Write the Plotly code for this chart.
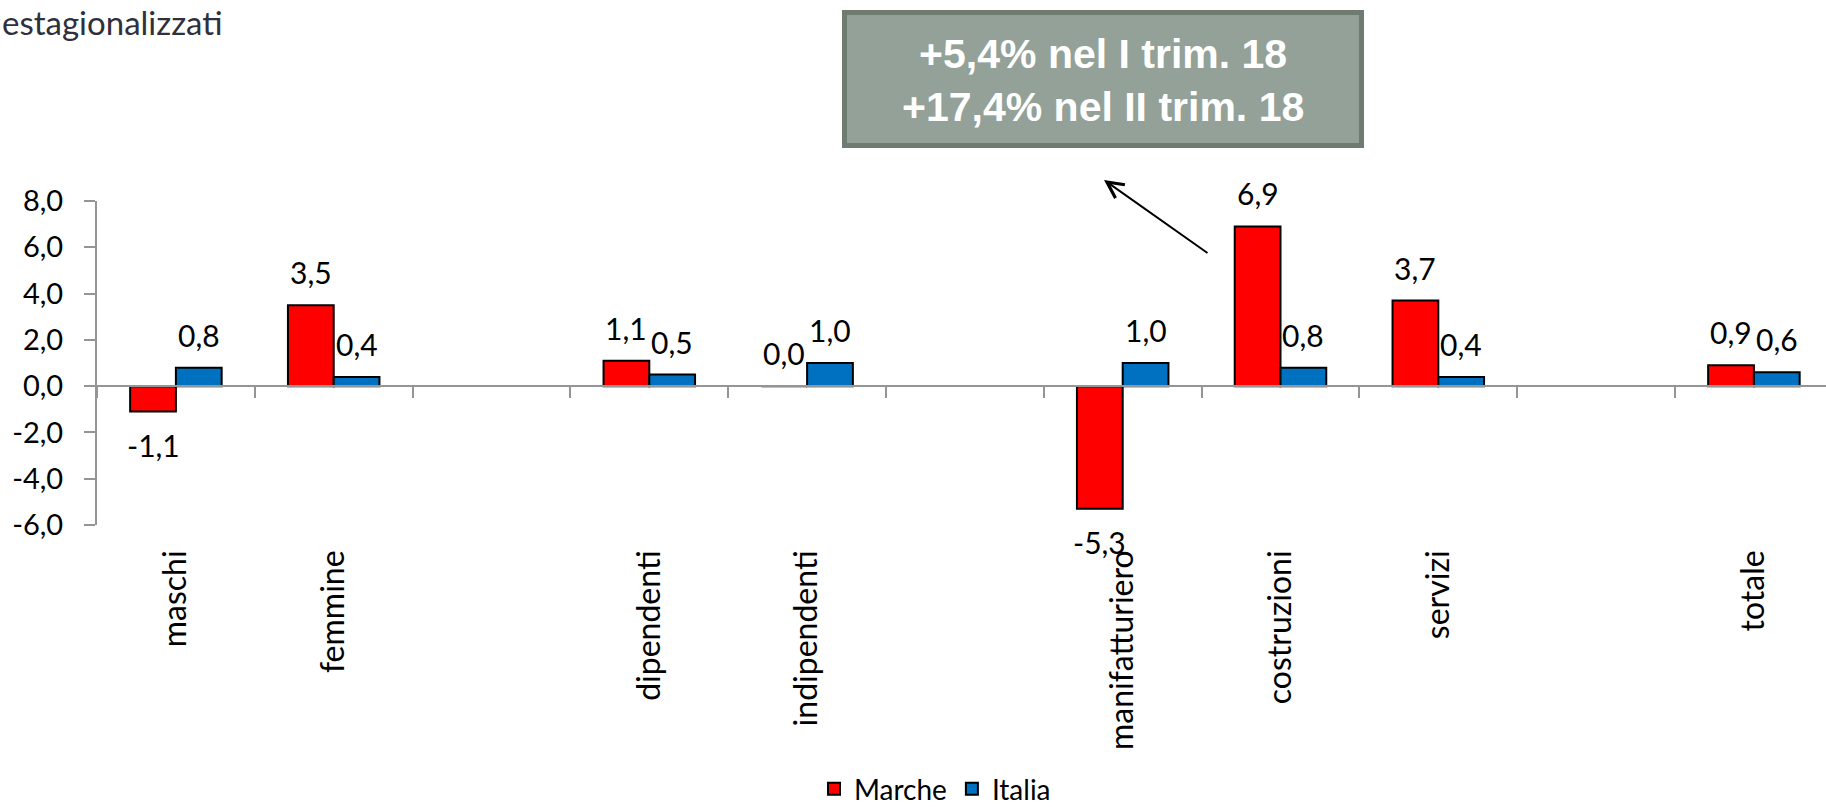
import plotly.graph_objects as go

# ---------------- data ----------------
categories = ["maschi", "femmine", "gap1", "dipendenti", "indipendenti", "gap2",
              "manifatturiero", "costruzioni", "servizi", "gap3", "totale"]
category_labels = ["maschi", "femmine", "", "dipendenti", "indipendenti", "",
                   "manifatturiero", "costruzioni", "servizi", "", "totale"]
marche = [-1.1, 3.5, None, 1.1, 0.0, None, -5.3, 6.9, 3.7, None, 0.9]
italia = [0.8, 0.4, None, 0.5, 1.0, None, 1.0, 0.8, 0.4, None, 0.6]
y_ticks = [-6, -4, -2, 0, 2, 4, 6, 8]
y_tick_labels = [f"{v:.1f}".replace(".", ",") for v in y_ticks]
title_text = "estagionalizzati"
box_text = "+5,4% nel I trim. 18<br>+17,4% nel II trim. 18"
series_names = ["Marche", "Italia"]

# ---------------- layout helpers ----------------
W, H = 1826, 807
ML, MR, MT, MB = 97, 0, 201, 282
PW, PH = W - ML - MR, H - MT - MB
CAT_PX = 157.8
BARGAP = 0.42
X_RANGE = [-0.5, -0.5 + PW / CAT_PX]
Y_RANGE = [-6, 8]


def px2x(px):
    return (px - ML) / PW


def py2y(py):
    return (H - MB - py) / PH


FONT = "Lato, Carlito, Calibri, sans-serif"
AXIS_GRAY = "#959595"

fig = go.Figure()
fig.add_trace(go.Bar(x=categories, y=marche, name=series_names[0],
                     marker=dict(color="#ff0000", line=dict(color="#000000", width=2))))
fig.add_trace(go.Bar(x=categories, y=italia, name=series_names[1],
                     marker=dict(color="#0070c0", line=dict(color="#000000", width=2))))
# carrier trace for the zero-line axis
fig.add_trace(go.Scatter(x=categories, y=[None] * len(categories), xaxis="x2", yaxis="y",
                         showlegend=False, hoverinfo="skip", mode="lines"))

# data labels
bar_offset = (1 - BARGAP) * CAT_PX / 4
annotations = []
for vals, sign in ((marche, -1), (italia, 1)):
    for c, v in zip(categories, vals):
        if v is None:
            continue
        annotations.append(dict(
            x=c, y=v, xref="x", yref="y", text=f"{v:.1f}".replace(".", ","),
            showarrow=False, xshift=sign * bar_offset, yshift=33 if v >= 0 else -33,
            yanchor="middle", xanchor="center",
            font=dict(family=FONT, size=30, color="#000000")))

# title fragment
annotations.append(dict(
    x=px2x(0), y=py2y(0), xref="paper", yref="paper", text=title_text,
    showarrow=False, xanchor="left", yanchor="top",
    font=dict(family=FONT, size=33, color="#30303c")))

# box text
annotations.append(dict(
    x=px2x(1103), y=py2y(81), xref="paper", yref="paper", text=box_text,
    showarrow=False, xanchor="center", yanchor="middle",
    font=dict(family="Liberation Sans, Arial, sans-serif", size=41, color="#ffffff",
              weight="bold")))

# arrow
annotations.append(dict(
    x=px2x(1104), y=py2y(180), xref="paper", yref="paper", text="",
    showarrow=True, ax=105, ay=74, axref="pixel", ayref="pixel",
    arrowhead=5, arrowsize=1.6, arrowwidth=2, arrowcolor="#000000", standoff=0))

shapes = [dict(type="rect", xref="paper", yref="paper",
               x0=px2x(844.5), x1=px2x(1361.5), y0=py2y(12.5), y1=py2y(145.5),
               fillcolor="#93a198", line=dict(color="#6f7b71", width=5), layer="above")]

fig.update_layout(
    width=W, height=H, autosize=False,
    margin=dict(l=ML, r=MR, t=MT, b=MB, pad=0, autoexpand=False),
    paper_bgcolor="#ffffff", plot_bgcolor="#ffffff",
    barmode="group", bargap=BARGAP, bargroupgap=0,
    font=dict(family=FONT, size=28, color="#000000"),
    showlegend=True,
    legend=dict(orientation="h", x=px2x(935), xanchor="center", y=py2y(789), yanchor="middle",
                font=dict(family=FONT, size=28, color="#000000"), bgcolor="rgba(0,0,0,0)",
                itemwidth=30, traceorder="normal"),
    xaxis=dict(type="category", categoryorder="array", categoryarray=categories,
               range=X_RANGE, showline=False, showgrid=False, zeroline=False,
               tickmode="array", tickvals=categories, ticktext=category_labels,
               tickangle=-90, ticks="", ticklabelstandoff=18, automargin=False,
               tickfont=dict(family=FONT, size=32, color="#000000")),
    xaxis2=dict(type="category", categoryorder="array", categoryarray=categories,
                overlaying="x", matches="x", anchor="free", position=py2y(H - MB - PH * 6 / 14),
                side="bottom", showline=True, linecolor=AXIS_GRAY, linewidth=2,
                ticks="outside", tickson="boundaries", ticklen=11, tickwidth=2,
                tickcolor=AXIS_GRAY, showticklabels=False, showgrid=False, zeroline=False,
                tickmode="linear", tick0=0, dtick=1, automargin=False),
    yaxis=dict(range=Y_RANGE, showline=True, linecolor=AXIS_GRAY, linewidth=2,
               ticks="outside", ticklen=11, tickwidth=2, tickcolor=AXIS_GRAY,
               tickmode="array", tickvals=y_ticks, ticktext=y_tick_labels,
               showgrid=False, zeroline=False, ticklabelstandoff=15, automargin=False,
               tickfont=dict(family=FONT, size=29, color="#000000")),
    annotations=annotations,
    shapes=shapes,
)

fig.write_html("out.html", config={"displayModeBar": False},
               post_script="document.body.style.margin='0';document.body.style.overflow='hidden';")
